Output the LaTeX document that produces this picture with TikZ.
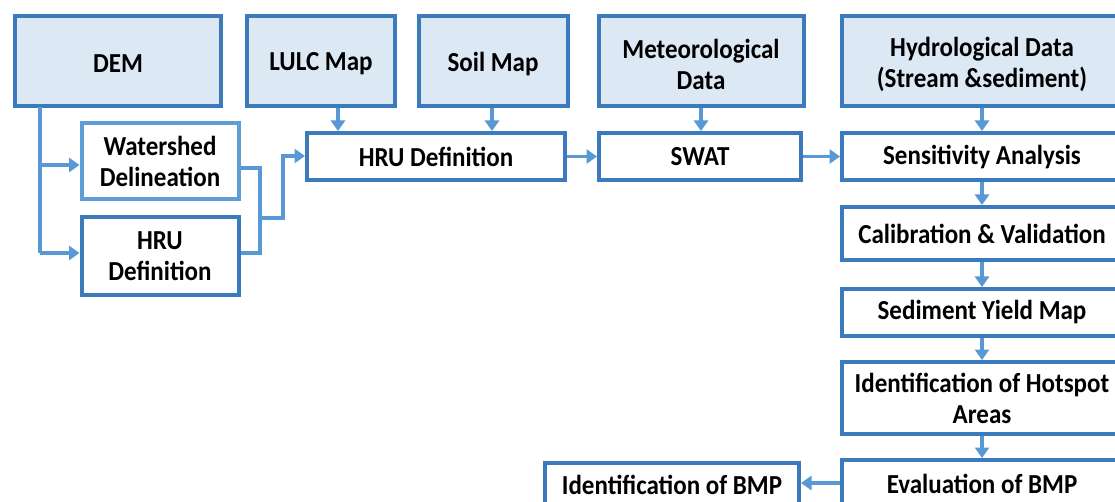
\documentclass[tikz,border=0pt]{standalone}
\usepackage{fontspec}
\setmainfont{Carlito}[FakeStretch=0.91]
\usetikzlibrary{arrows.meta}
\definecolor{bordc}{RGB}{60,122,190}
\definecolor{lightbord}{RGB}{95,157,214}
\definecolor{arrc}{RGB}{88,152,212}
\definecolor{fillc}{RGB}{221,232,245}
\tikzset{
  box/.style={draw=bordc, line width=4pt, align=center, inner sep=0pt,
    font=\fontsize{27.5}{31}\selectfont\bfseries, text=black},
  inbox/.style={box, fill=fillc},
  lbl/.style={align=center, inner sep=0pt, yshift=-3pt,
    font=\fontsize{27.5}{31}\selectfont\bfseries, text=black},
  conn/.style={draw=arrc, line width=3.8pt},
  arr/.style={conn, -{Triangle[width=14pt,length=10.5pt]}}
}
\begin{document}
\begin{tikzpicture}[x=1pt,y=-1pt]
\useasboundingbox (0,0) rectangle (1115,502);
\clip (0,0) rectangle (1115,502);
\fill[white] (0,0) rectangle (1115,502);
% input boxes
\node[inbox, minimum width=206pt, minimum height=90pt, label={[lbl]center:DEM}] (dem) at (118,61) {};
\node[inbox, minimum width=148pt, minimum height=90pt, label={[lbl]center:LULC Map}] (lulc) at (321,61) {};
\node[inbox, minimum width=149pt, minimum height=90pt, label={[lbl]center:Soil Map}] (soil) at (493,61) {};
\node[inbox, minimum width=205pt, minimum height=90pt, label={[lbl]center:Meteorological\\Data}] (met) at (701,61) {};
\node[inbox, minimum width=280pt, minimum height=90pt, label={[lbl]center:Hydrological Data\\(Stream \&sediment)}] (hyd) at (982,61) {};
% process boxes
\node[box, draw=lightbord, minimum width=157pt, minimum height=76pt] (ws) at (160,161) {Watershed\\Delineation};
\node[box, minimum width=157pt, minimum height=78pt] (hrus) at (160,256) {HRU\\Definition};
\node[box, minimum width=258pt, minimum height=47pt] (hru) at (436,156.5) {HRU Definition};
\node[box, minimum width=202pt, minimum height=47pt] (swat) at (700,156.5) {SWAT};
\node[box, minimum width=280pt, minimum height=47pt] (sens) at (982,156.5) {Sensitivity Analysis};
\node[box, minimum width=280pt, minimum height=53pt] (cal) at (982,233.5) {Calibration \& Validation};
\node[box, minimum width=280pt, minimum height=47pt] (sed) at (982,312.5) {Sediment Yield Map};
\node[box, minimum width=280pt, minimum height=72pt] (hot) at (982,398) {Identification of Hotspot\\Areas};
\node[box, minimum width=280pt, minimum height=48pt] (eva) at (982,484) {Evaluation of BMP};
\node[box, minimum width=254pt, minimum height=44pt] (idb) at (672,485) {Identification of BMP};
% DEM connectors
\coordinate (d0) at (40,107);
\coordinate (d1) at (40,165);
\coordinate (d2) at (40,253);
\draw[conn] (d0) -- (d2);
\draw[arr] (d1) -- (ws.west |- d1);
\draw[arr] (d2) -- (hrus.west |- d2);
% merge to HRU
\coordinate (m1) at (260,168);
\coordinate (m2) at (260,253);
\coordinate (j1) at (260,218);
\coordinate (j2) at (283,218);
\coordinate (j3) at (283,156);
\draw[conn] (ws.east |- m1) -- (m1) -- (m2) -- (hrus.east |- m2);
\draw[arr] (j1) -- (j2) -- (j3) -- (hru.west |- j3);
% top inputs
\draw[arr] (lulc.south -| 338,0) -- (hru.north -| 338,0);
\draw[arr] (soil.south -| 492,0) -- (hru.north -| 492,0);
\draw[arr] (met.south) -- (swat.north -| met.south);
\draw[arr] (hyd.south) -- (sens.north);
\draw[arr] (hru.east) -- (swat.west);
\draw[arr] (swat.east) -- (sens.west);
\draw[arr] (sens.south) -- (cal.north);
\draw[arr] (cal.south) -- (sed.north);
\draw[arr] (sed.south) -- (hot.north);
\draw[arr] (hot.south) -- (eva.north);
\draw[arr] (eva.west |- 0,483) -- (idb.east |- 0,483);
\end{tikzpicture}
\end{document}
